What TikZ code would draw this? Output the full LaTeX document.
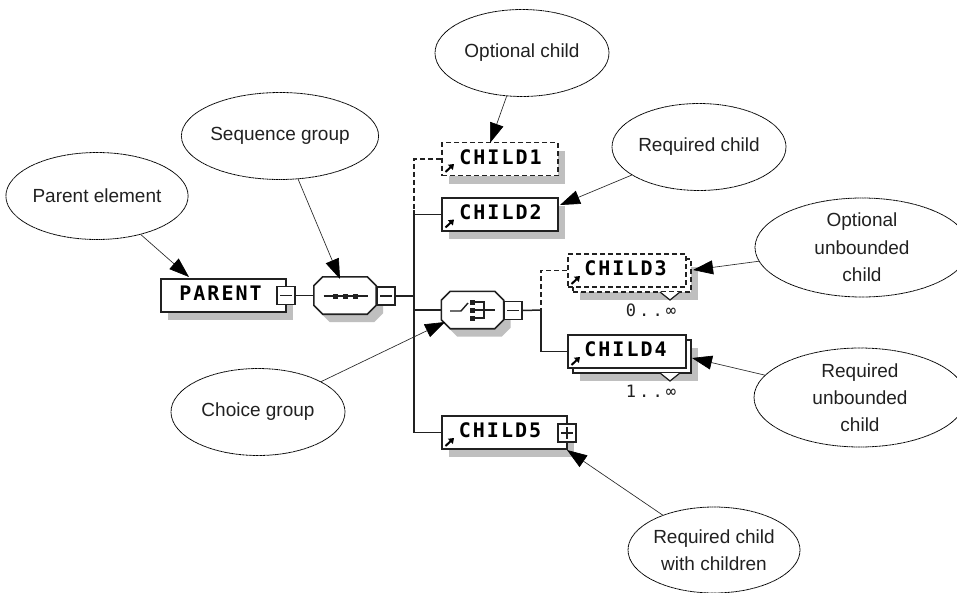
\documentclass[tikz,border=0pt]{standalone}
\usepackage{fontspec}
\setmainfont{Liberation Sans}
\newfontfamily\elfont[LetterSpace=10]{DejaVu Sans Mono Bold}
\newfontfamily\occfont[LetterSpace=18]{DejaVu Sans Mono}
\usetikzlibrary{shapes.geometric,shapes.misc,shadows,arrows.meta,calc}
\definecolor{shadowgray}{gray}{0.75}
\definecolor{inkc}{gray}{0.13}
\tikzset{
  x=1pt,y=-1pt,
  callout/.style={ellipse,draw=black,line width=0.8pt,dash pattern=on 1pt off 0.4pt,inner sep=0pt,minimum width=174pt,minimum height=87pt,align=center,font=\fontsize{19}{27.3}\selectfont,text=inkc},
  leader/.style={draw=black!85,line width=0.65pt,-{Triangle[length=20pt,width=14pt,fill=black,color=black]}},
  wire/.style={draw=inkc,line width=1.5pt},
  dashwire/.style={wire,dash pattern=on 5pt off 3pt},
  dropshade/.style={general shadow={shadow xshift=7pt,shadow yshift=-8pt,fill=shadowgray,draw=none,opacity=1}},
  elbox/.style={rectangle,draw=inkc,line width=1.7pt,fill=white,inner sep=0pt,minimum width=#1,minimum height=33pt},
  optbox/.style={elbox=#1,dash pattern=on 5pt off 3pt},
  btn/.style={rectangle,draw=inkc,line width=1.4pt,fill=white,inner sep=0pt,minimum size=18pt},
  octa/.style={rectangle,inner sep=0pt,minimum width=62pt,minimum height=37pt},
  eltext/.style={font=\elfont\fontsize{20}{20}\selectfont,text=black,inner sep=0pt},
  occ/.style={font=\occfont\fontsize{17}{17}\selectfont,text=inkc,inner sep=0pt},
  glyph/.style={line width=1.4pt,draw=inkc},
  link/.style={line width=2pt,draw=black,-{Triangle[length=5pt,width=7pt]}},
  micro/.style={draw=inkc,line width=1.2pt,fill=white}
}
\newcommand{\octshape}[1]{%
  \fill[shadowgray] ($(#1.north west)+(7+9,8)$) -- ($(#1.north east)+(7-9,8)$) -- ($(#1.north east)+(7,8+9)$)
    -- ($(#1.south east)+(7,8-9)$) -- ($(#1.south east)+(7-9,8)$) -- ($(#1.south west)+(7+9,8)$)
    -- ($(#1.south west)+(7,8-9)$) -- ($(#1.north west)+(7,8+9)$) -- cycle;
  \draw[draw=inkc,line width=1.6pt,fill=white] ($(#1.north west)+(9,0)$) -- ($(#1.north east)+(-9,0)$) -- ($(#1.north east)+(0,9)$)
    -- ($(#1.south east)+(0,-9)$) -- ($(#1.south east)+(-9,0)$) -- ($(#1.south west)+(9,0)$)
    -- ($(#1.south west)+(0,-9)$) -- ($(#1.north west)+(0,9)$) -- cycle;
}
\begin{document}
\begin{tikzpicture}
\useasboundingbox (0,0) rectangle (957,592);
\clip (0,0) rectangle (957,592);
\fill[white] (0,0) rectangle (957,592);

% bus coordinates
\coordinate (busTop) at (414,210);
\coordinate (subTop) at (541,310);

% element boxes
\node[elbox=125pt,dropshade] (parent) at (223.5,295.5) {};
\node[octa] (seq) at (345,295.5) {};
\octshape{seq}
\node[octa] (choice) at (472.5,310) {};
\octshape{choice}
\node[optbox=116pt,dropshade] (c1) at (500,159) {};
\node[elbox=116pt,dropshade] (c2) at (500,214.5) {};
\node[elbox=125pt,dropshade] (c5) at (504.5,432.5) {};
\node[optbox=118pt,dropshade] (c3b) at (632,275.5) {};
\node[optbox=118pt,fill=white] (c3) at (627,270.5) {};
\node[elbox=118pt,dropshade] (c4b) at (632,356.5) {};
\node[elbox=118pt] (c4) at (627,351.5) {};

% buttons
\node[btn] (pbtn) at (286,295.5) {};
\node[btn] (sbtn) at (386,296) {};
\node[btn] (cbtn) at (513,310.5) {};
\node[btn] (c5btn) at (567,433) {};
\draw[glyph] ($(pbtn.center)+(-6,0)$) -- ($(pbtn.center)+(6,0)$);
\draw[glyph] ($(sbtn.center)+(-6,0)$) -- ($(sbtn.center)+(6,0)$);
\draw[glyph] ($(cbtn.center)+(-6,0)$) -- ($(cbtn.center)+(6,0)$);
\draw[glyph] ($(c5btn.center)+(-6,0)$) -- ($(c5btn.center)+(6,0)$);
\draw[glyph] ($(c5btn.center)+(0,-6)$) -- ($(c5btn.center)+(0,6)$);

% wires
\draw[wire] (pbtn.east) -- (seq.west);
\draw[wire] (sbtn.east) -- (sbtn.east -| busTop);
\draw[dashwire] (c1.west) -| (busTop);
\draw[wire] (c2.west) -| (busTop);
\draw[wire] (c5.west) -| (busTop);
\draw[wire] (choice.west) -- (choice.west -| busTop);
\draw[wire] (cbtn.east) -- (subTop);
\draw[dashwire] (c3.west) -| (subTop);
\draw[wire] (c4.west) -| (subTop);

% sequence icon
\coordinate (seqIc) at (345.5,296);
\draw[glyph] ($(seqIc)+(-22,0)$) -- ($(seqIc)+(22,0)$);
\foreach \d in {-10,0,10} \fill[inkc] ($(seqIc)+(\d-2.5,-2.5)$) rectangle +(5,5);
% choice icon
\draw[glyph] (450,311) -- (461,311) -- (468,303);
\foreach \d in {302,310,318} {\fill[inkc] (469.5,\d-2.5) rectangle +(5,5);}
\draw[glyph] (475,302) -- (484,302) -- (484,318) -- (475,318);
\draw[glyph] (475,310) -- (484,310);
\draw[glyph] (484,310) -- (495,310);

% link arrows
\draw[link] (445.5,172) -- (454,164);
\draw[link] (445.5,227.5) -- (454,219.5);
\draw[link] (445.5,446) -- (454,438);
\draw[link] (571.5,284) -- (580,276);
\draw[link] (571.5,365) -- (580,357);

% occurrence markers
\draw[micro] (660,292) -- (670,300) -- (680,292);
\draw[micro] (660,373) -- (670,381) -- (680,373);

% element names
\node[eltext] (tp) at (220.5,293) {PARENT};
\node[eltext] (t1) at (500.5,157) {CHILD1};
\node[eltext] (t2) at (500.5,212) {CHILD2};
\node[eltext] (t3) at (625.5,268) {CHILD3};
\node[eltext] (t4) at (625.5,349) {CHILD4};
\node[eltext] (t5) at (500,430) {CHILD5};
\node[occ] (o3) at (651,310) {0..∞};
\node[occ] (o4) at (651,391) {1..∞};

% callouts
\node[callout] (eParent) at (97,196) {Parent element};
\node[callout] (eSeq) at (280,136) {Sequence group};
\node[callout] (eOpt) at (522,53) {Optional child};
\node[callout] (eReq) at (699,147) {Required child};
\node[callout,minimum width=214pt,minimum height=99pt] (eOptU) at (862,247.5) {Optional\\unbounded\\child};
\node[callout,minimum width=212pt,minimum height=99pt] (eReqU) at (860,397.5) {Required\\unbounded\\child};
\node[callout] (eChoice) at (258,412) {Choice group};
\node[callout,minimum width=172pt,minimum height=86pt] (eKids) at (714,550) {Required child\\with children};

% tips
\coordinate (tParent) at (189,277);
\coordinate (tSeq) at (340,279);
\coordinate (tOpt) at (490,143);
\coordinate (tReq) at (560,205);
\coordinate (tOptU) at (693,270);
\coordinate (tReqU) at (692,358);
\coordinate (tChoice) at (445,322);
\coordinate (tKids) at (567,450);
\draw[leader] (eParent) -- (tParent);
\draw[leader] (eSeq) -- (tSeq);
\draw[leader] (eOpt) -- (tOpt);
\draw[leader] (eReq) -- (tReq);
\draw[leader] (eOptU) -- (tOptU);
\draw[leader] (eReqU) -- (tReqU);
\draw[leader] (eChoice) -- (tChoice);
\draw[leader] (eKids) -- (tKids);
\end{tikzpicture}
\end{document}
